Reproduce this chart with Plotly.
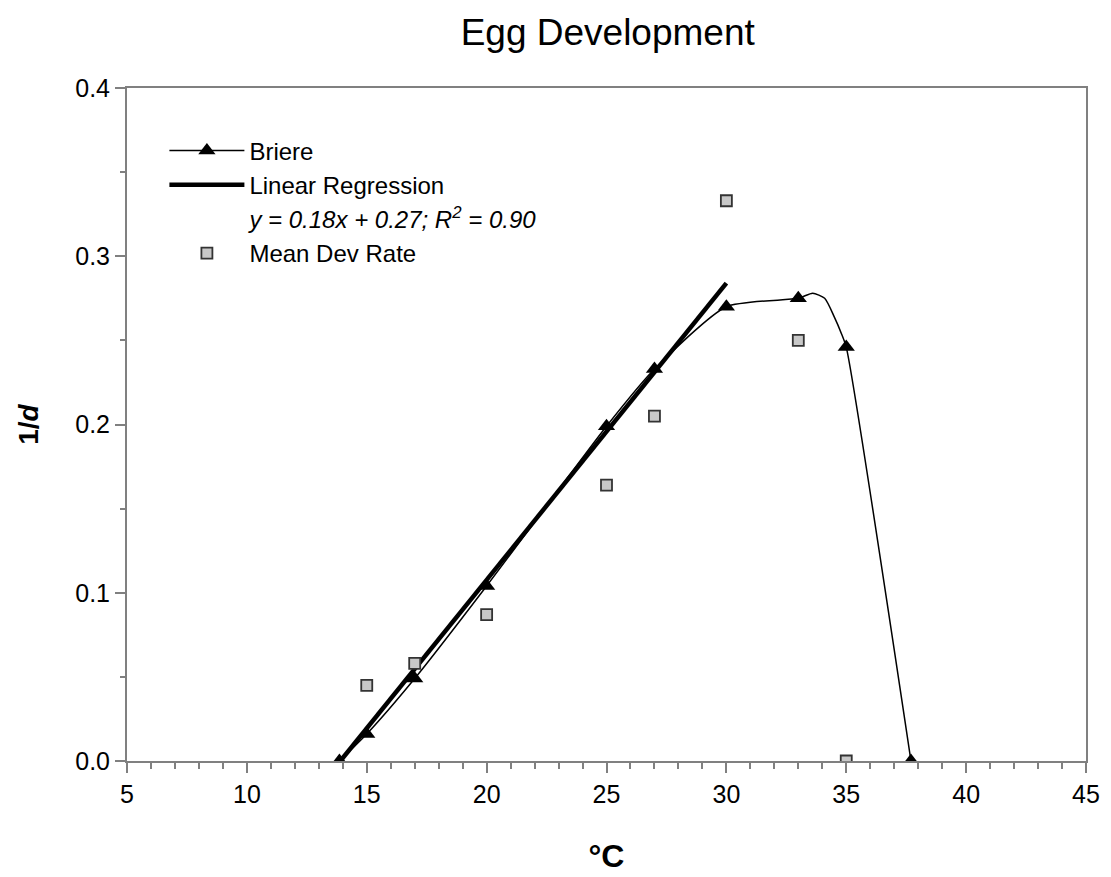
import plotly.graph_objects as go

# Briere model points (triangles)
briere_x = [13.86, 15, 17, 20, 25, 27, 30, 33, 35, 37.7]
briere_y = [0.0, 0.016, 0.049, 0.104, 0.199, 0.233, 0.270, 0.275, 0.246, 0.0]

# Briere fitted curve
curve_x = [13.86, 15, 17, 20, 25, 27, 30, 33, 33.6, 34.1, 34.5, 34.8, 35, 37.7]
curve_y = [0.0, 0.016, 0.049, 0.104, 0.199, 0.233, 0.270, 0.275, 0.278, 0.275, 0.264, 0.254, 0.246, 0.0]

# Linear regression line end points
lin_x = [13.9, 30.0]
lin_y = [0.0, 0.284]

# Mean development rate observations (squares)
mean_x = [15, 17, 20, 25, 27, 30, 33, 35]
mean_y = [0.045, 0.058, 0.087, 0.164, 0.205, 0.333, 0.250, 0.0]

FONT = "Liberation Sans, Arial, sans-serif"

fig = go.Figure()

fig.add_trace(go.Scatter(x=curve_x, y=curve_y, mode="lines", line=dict(color="black", width=1.5, shape="spline", smoothing=0.6),
                         showlegend=False, hoverinfo="skip"))
fig.add_trace(go.Scatter(x=lin_x, y=lin_y, mode="lines", line=dict(color="black", width=4.5), showlegend=False))
fig.add_trace(go.Scatter(x=briere_x, y=briere_y, mode="markers",
                         marker=dict(symbol="triangle-up", size=15, color="black"), showlegend=False))
fig.add_trace(go.Scatter(x=mean_x, y=mean_y, mode="markers",
                         marker=dict(symbol="square", size=11, color="#c8c8c8", line=dict(color="#333333", width=1.8)),
                         showlegend=False))

# legend entries
fig.add_trace(go.Scatter(x=[None], y=[None], mode="lines+markers", name="Briere",
                         line=dict(color="black", width=1.5),
                         marker=dict(symbol="triangle-up", size=15, color="black")))
fig.add_trace(go.Scatter(x=[None], y=[None], mode="lines", name="Linear Regression",
                         line=dict(color="black", width=4.5)))
fig.add_trace(go.Scatter(x=[None], y=[None], mode="lines", name="<i>y = 0.18x + 0.27; R<sup>2</sup> = 0.90</i>",
                         line=dict(color="rgba(0,0,0,0)", width=0)))
fig.add_trace(go.Scatter(x=[None], y=[None], mode="markers", name="Mean Dev Rate",
                         marker=dict(symbol="square", size=11, color="#c8c8c8", line=dict(color="#333333", width=1.8))))

axis_common = dict(showline=True, linecolor="#808080", linewidth=2, mirror=True, showgrid=False, zeroline=False,
                   ticks="outside", tickcolor="#808080", tickwidth=1.5, ticklen=10, automargin=False,
                   tickfont=dict(family=FONT, size=25, color="black"))

fig.update_xaxes(range=[5, 45], dtick=5, tick0=5,
                 minor=dict(dtick=1, ticks="outside", ticklen=6, tickcolor="#808080", tickwidth=1.5),
                 title=dict(text="<b>°C</b>", font=dict(family=FONT, size=32, color="black"), standoff=38),
                 **axis_common)
fig.update_yaxes(range=[0, 0.4], dtick=0.1, tickformat=".1f",
                 minor=dict(dtick=0.05, ticks="outside", ticklen=5, tickcolor="#808080", tickwidth=1.5),
                 title=dict(text="<b>1/<i>d</i></b>", font=dict(family=FONT, size=28, color="black"), standoff=28),
                 **axis_common)

fig.update_layout(
    width=1111, height=877,
    margin=dict(l=127, r=25, t=88, b=116),
    paper_bgcolor="white", plot_bgcolor="white",
    title=dict(text="Egg Development", x=0.547, xanchor="center", y=0.963, yanchor="middle",
               font=dict(family=FONT, size=37, color="black")),
    legend=dict(x=0.039, y=0.94, xanchor="left", yanchor="top", bgcolor="rgba(0,0,0,0)",
                font=dict(family=FONT, size=24, color="black"), itemwidth=75, tracegroupgap=0),
)

fig.write_html("out.html")
